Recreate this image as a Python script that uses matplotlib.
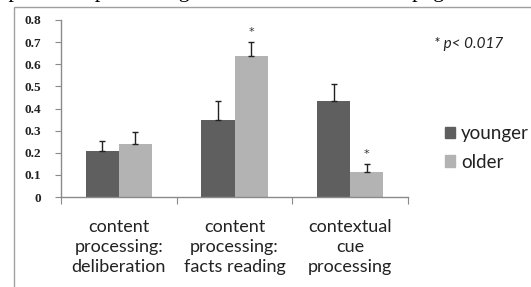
import matplotlib
matplotlib.use("Agg")
import matplotlib.pyplot as plt
from matplotlib.patches import Rectangle

categories = ["content\nprocessing:\ndeliberation", "content\nprocessing:\nfacts reading", "contextual\ncue\nprocessing"]
younger = [0.21, 0.347, 0.433]
older = [0.241, 0.636, 0.112]
younger_err = [0.045, 0.086, 0.078]
older_err = [0.052, 0.066, 0.039]
yticks = [0, 0.1, 0.2, 0.3, 0.4, 0.5, 0.6, 0.7, 0.8]
ytick_labels = ["0", "0.1", "0.2", "0.3", "0.4", "0.5", "0.6", "0.7", "0.8"]
series_names = ["younger", "older"]
sig_note = "* p< 0.017"
top_text = "spected to processing information of two web pages."

W, H = 531, 287
fig = plt.figure(figsize=(W / 100, H / 100), dpi=100)
fig.patch.set_facecolor("white")

# clipped caption text at top (only descenders visible)
fig.text(0.0, 1.0 + 3.5 / H, top_text, fontsize=16, family="Liberation Serif",
         va="baseline", ha="left", color="black")

# outer frame
frame = Rectangle((14 / W, -0.05), 1.0, 1.05 - 7 / H, transform=fig.transFigure,
                  fill=False, edgecolor="#a0a0a0", lw=1.0)
fig.patches.append(frame)

ax = fig.add_axes([61 / W, (H - 197) / H, (408 - 61) / W, (197 - 20) / H])
ax.set_xlim(-0.5, 2.5)
ax.set_ylim(0, 0.8)

dark = "#5f5f5f"
light = "#b3b3b3"
bw = 0.288
xs = list(range(len(categories)))
ax.bar([x - bw / 2 for x in xs], younger, width=bw, color=dark, edgecolor="none",
       yerr=[[0] * 3, younger_err], error_kw=dict(ecolor="#222222", elinewidth=1.0, capsize=2.2, capthick=1.0))
ax.bar([x + bw / 2 for x in xs], older, width=bw, color=light, edgecolor="none",
       yerr=[[0] * 3, older_err], error_kw=dict(ecolor="#222222", elinewidth=1.0, capsize=2.2, capthick=1.0))

# significance asterisks
for i in [1, 2]:
    ax.text(i + bw / 2, older[i] + older_err[i] + 0.02, "*", ha="center", va="bottom",
            fontsize=8, family="DejaVu Sans", color="#333333")

for s in ["top", "right"]:
    ax.spines[s].set_visible(False)
for s in ["left", "bottom"]:
    ax.spines[s].set_color("#8a8a8a")
    ax.spines[s].set_linewidth(1.0)

ax.set_yticks(yticks)
ax.set_yticklabels(ytick_labels, family="Liberation Serif", fontsize=9.5, fontweight="bold")
ax.tick_params(axis="y", length=4, color="#8a8a8a", pad=10, labelcolor="#222222")

ax.set_xticks([-0.5, 0.5, 1.5, 2.5])
ax.set_xticklabels([])
ax.tick_params(axis="x", length=5, color="#8a8a8a")
for i, c in enumerate(categories):
    ax.text(i, -0.1, c, ha="center", va="top", fontsize=13, family="Lato",
            color="#222222", linespacing=1.3, transform=ax.transData, clip_on=False)

# legend
handles = [Rectangle((0, 0), 1, 1, color=dark), Rectangle((0, 0), 1, 1, color=light)]
leg = fig.legend(handles, series_names, loc="center left", bbox_to_anchor=(428 / W, 1 - 148 / H),
                 frameon=False, prop={"family": "Lato", "size": 13.5}, handlelength=0.55,
                 handleheight=0.55, handletextpad=0.3, labelspacing=0.6, labelcolor="#222222")

fig.text(434 / W, 1 - 44 / H, sig_note, fontsize=11, family="Lato", style="italic",
         va="center", ha="left", color="#222222")

fig.savefig("out.png", dpi=100)
